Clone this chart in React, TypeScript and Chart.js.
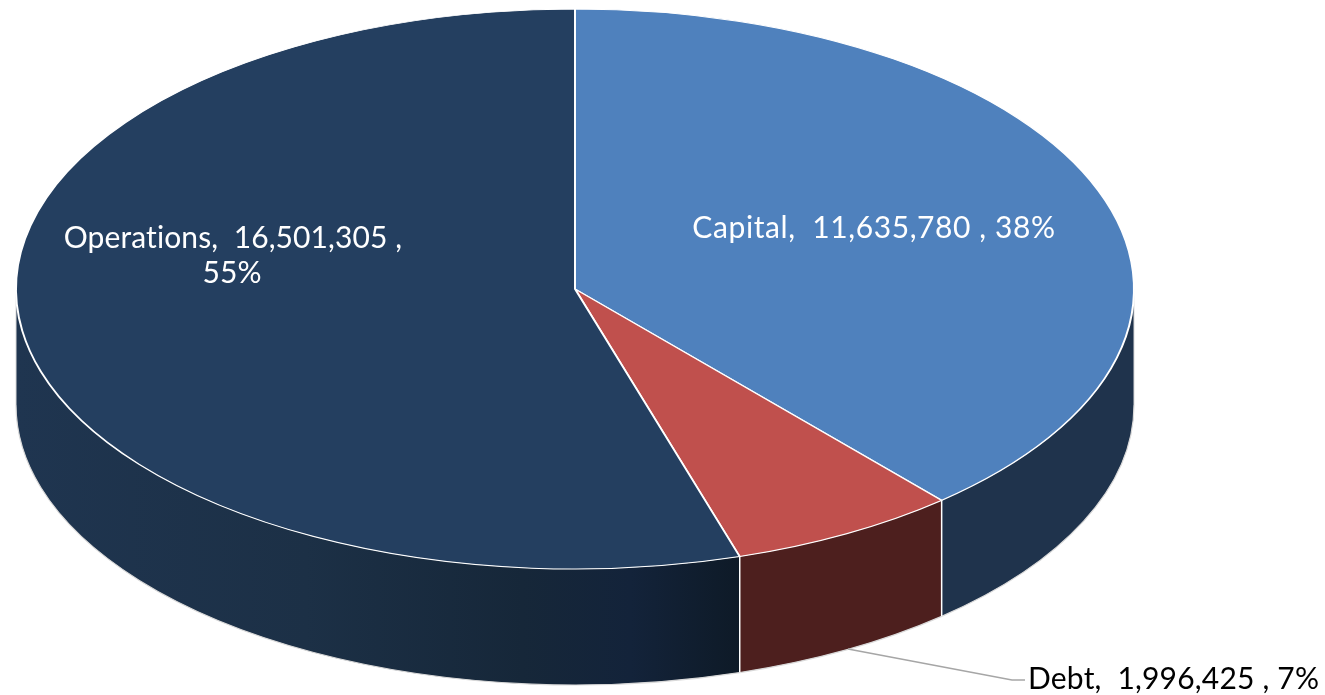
import React, { useEffect, useRef } from "react";
import { Chart, registerables } from "chart.js";

Chart.register(...registerables);

// Budget split by category
const categories = ["Capital", "Debt", "Operations"];
const amounts = [11635780, 1996425, 16501305];
const amountLabels = ["11,635,780", "1,996,425", "16,501,305"];
const percentLabels = ["38%", "7%", "55%"];

const topColors = ["#4f81bd", "#c0504d", "#243f60"];
const wallColors = ["#1f334c", "#4d1f1e", "#1f3550"];

const WIDTH = 1325;
const HEIGHT = 695;
const RADIUS = 559;
const SQUASH = 280 / 559;
const DEPTH = 116;
const FONT = '30px Lato, "Noto Sans", sans-serif';

// Vertical wall under the front half of each slice, plus separators and the base edge.
const drawWalls = (chart: any) => {
  const { ctx } = chart;
  const arcs = chart.getDatasetMeta(0).data;
  arcs.forEach((arc: any, i: number) => {
    const a0 = Math.max(arc.startAngle, 0);
    const a1 = Math.min(arc.endAngle, Math.PI);
    if (a1 <= a0) return;
    const rx = arc.outerRadius;
    const ry = rx * SQUASH;
    const { x, y } = arc;
    ctx.save();
    ctx.beginPath();
    ctx.ellipse(x, y, rx, ry, 0, a0, a1);
    ctx.ellipse(x, y + DEPTH, rx, ry, 0, a1, a0, true);
    ctx.closePath();
    if (i === 2) {
      const g = ctx.createLinearGradient(x - rx, 0, x + rx * Math.cos(a0), 0);
      g.addColorStop(0, "#1f3550");
      g.addColorStop(0.4, "#1c3046");
      g.addColorStop(0.7, "#162739");
      g.addColorStop(0.85, "#13233a");
      g.addColorStop(1, "#0e1a27");
      ctx.fillStyle = g;
    } else {
      ctx.fillStyle = wallColors[i];
    }
    ctx.fill();

    // Base rim
    ctx.beginPath();
    ctx.ellipse(x, y + DEPTH, rx, ry, 0, a0, a1);
    ctx.strokeStyle = "#d9d9d9";
    ctx.lineWidth = 1.2;
    ctx.stroke();

    // Side edges of the wall
    ctx.strokeStyle = "#d9d9d9";
    ctx.lineWidth = 1;
    if (i === 2) {
      ctx.beginPath();
      ctx.moveTo(x - rx, y);
      ctx.lineTo(x - rx, y + DEPTH);
      ctx.stroke();
    }
    if (i === 0) {
      ctx.beginPath();
      ctx.moveTo(x + rx, y);
      ctx.lineTo(x + rx, y + DEPTH);
      ctx.stroke();
    }
    ctx.restore();
  });

  // White separators between neighbouring walls
  arcs.forEach((arc: any) => {
    const a = arc.startAngle;
    if (a <= 0 || a >= Math.PI) return;
    const px = arc.x + arc.outerRadius * Math.cos(a);
    const py = arc.y + arc.outerRadius * SQUASH * Math.sin(a);
    ctx.save();
    ctx.beginPath();
    ctx.moveTo(px, py);
    ctx.lineTo(px, py + DEPTH);
    ctx.strokeStyle = "#ffffff";
    ctx.lineWidth = 1.5;
    ctx.stroke();
    ctx.restore();
  });
};

const tiltPlugin = {
  id: "tilt",
  beforeDatasetsDraw(chart: any) {
    drawWalls(chart);
    const { ctx } = chart;
    const arc = chart.getDatasetMeta(0).data[0];
    ctx.save();
    ctx.translate(arc.x, arc.y);
    ctx.scale(1, SQUASH);
    ctx.translate(-arc.x, -arc.y);
  },
  afterDatasetsDraw(chart: any) {
    chart.ctx.restore();
  },
};

const labelPlugin = {
  id: "sliceLabels",
  afterDraw(chart: any) {
    const { ctx } = chart;
    ctx.save();
    ctx.font = FONT;
    ctx.textBaseline = "middle";

    ctx.fillStyle = "#ffffff";
    ctx.textAlign = "center";
    ctx.letterSpacing = "0.6px";
    ctx.fillText(`${categories[0]},  ${amountLabels[0]} , ${percentLabels[0]}`, 874, 228);
    ctx.letterSpacing = "0.1px";
    ctx.fillText(`${categories[2]},  ${amountLabels[2]} ,`, 233, 238);
    ctx.fillText(percentLabels[2], 232, 273);

    // Leader line to the outside label
    ctx.beginPath();
    ctx.moveTo(848, 649);
    ctx.lineTo(1012, 680);
    ctx.lineTo(1025, 680);
    ctx.strokeStyle = "#a6a6a6";
    ctx.lineWidth = 1.5;
    ctx.stroke();

    ctx.fillStyle = "#000000";
    ctx.textAlign = "left";
    ctx.letterSpacing = "0.2px";
    ctx.fillText(`${categories[1]},  ${amountLabels[1]} , ${percentLabels[1]}`, 1028, 679);
    ctx.restore();
  },
};

export default function App() {
  const ref = useRef<HTMLCanvasElement>(null);
  useEffect(() => {
    const chart = new Chart(ref.current as HTMLCanvasElement, {
      type: "pie",
      data: {
        labels: categories,
        datasets: [
          {
            data: amounts,
            backgroundColor: topColors,
            borderColor: "#ffffff",
            borderWidth: 2,
            radius: RADIUS,
          },
        ],
      },
      options: {
        responsive: false,
        animation: false,
        events: [],
        layout: { padding: { left: 0, right: WIDTH - 2 * 575, top: 0, bottom: HEIGHT - 2 * 289 } },
        plugins: { legend: { display: false }, tooltip: { enabled: false } },
      },
      plugins: [tiltPlugin, labelPlugin],
    } as any);
    return () => chart.destroy();
  }, []);
  return (
    <canvas
      ref={ref}
      width={WIDTH}
      height={HEIGHT}
      style={{ position: "fixed", left: 0, top: 0, display: "block" }}
    />
  );
}
